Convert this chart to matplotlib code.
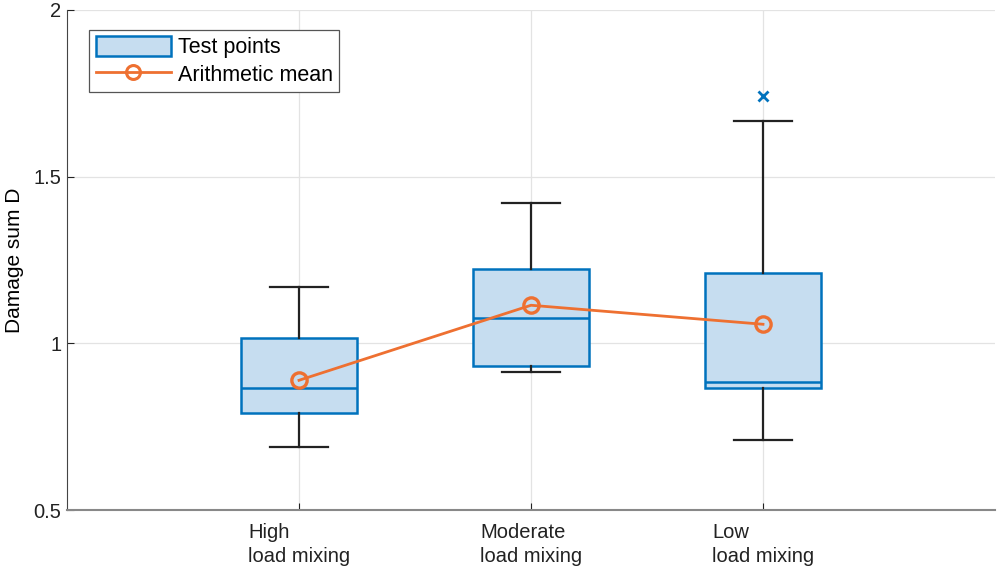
import matplotlib.pyplot as plt
from matplotlib.patches import Patch
from matplotlib.lines import Line2D

plt.rcParams['font.family'] = ['Liberation Sans', 'DejaVu Sans']

# data
labels = ['High\nload mixing', 'Moderate\nload mixing', 'Low\nload mixing']
q1 = [0.79, 0.931, 0.865]
med = [0.865, 1.075, 0.883]
q3 = [1.015, 1.222, 1.21]
wlo = [0.688, 0.913, 0.709]
whi = [1.168, 1.42, 1.667]
fliers = [[], [], [1.742]]
means = [0.889, 1.114, 1.057]

blue = '#0072BD'
fill = '#C6DDF0'
orange = '#EE7031'
fs = 14.5

stats = []
for i in range(3):
    stats.append(dict(q1=q1[i], med=med[i], q3=q3[i], whislo=wlo[i],
                      whishi=whi[i], fliers=fliers[i], label=labels[i]))

fig = plt.figure(figsize=(10, 5.75), dpi=100)
ax = fig.add_axes([0.067, 0.113, 0.928, 0.87])
pos = [1, 2, 3]
ax.bxp(stats, positions=pos, widths=0.5, patch_artist=True, showcaps=True,
       boxprops=dict(facecolor=fill, edgecolor=blue, linewidth=1.8),
       medianprops=dict(color=blue, linewidth=1.8),
       whiskerprops=dict(color='#222222', linewidth=1.6),
       capprops=dict(color='#222222', linewidth=1.6),
       capwidths=0.25,
       flierprops=dict(marker='x', markeredgecolor=blue, markersize=7, markeredgewidth=2))
ax.plot(pos, means, color=orange, linewidth=2, marker='o', markersize=11,
        markerfacecolor='none', markeredgewidth=2.4, zorder=5)

ax.set_xlim(0, 4)
ax.set_ylim(0.5, 2)
ax.set_yticks([0.5, 1, 1.5, 2])
ax.set_yticklabels(['0.5', '1', '1.5', '2'])
ax.set_xticks(pos)
ax.set_xticklabels(labels, ha='center', multialignment='left', linespacing=1.35)
ax.tick_params(direction='in', length=5, labelsize=fs, colors='#222222', width=0.8)
ax.tick_params(axis='x', pad=9)
ax.tick_params(axis='y', pad=4)
ax.grid(True, color='#e3e3e3', linewidth=0.9)
ax.set_axisbelow(True)
for s in ['top', 'right']:
    ax.spines[s].set_visible(False)
ax.spines['left'].set_color('#444444')
ax.spines['bottom'].set_color('#888888')
ax.spines['bottom'].set_linewidth(1.5)
ax.set_ylabel('Damage sum D', fontsize=15)
ax.yaxis.set_label_coords(-0.046, 0.5)

handles = [Patch(facecolor=fill, edgecolor=blue, linewidth=1.8),
           Line2D([], [], color=orange, linewidth=2, marker='o', markersize=10,
                  markerfacecolor='none', markeredgewidth=2.2)]
leg = ax.legend(handles, ['Test points', 'Arithmetic mean'], loc='upper left',
                bbox_to_anchor=(0.024, 0.96), fontsize=15.5, fancybox=False,
                edgecolor='#555555', handlelength=3.5, handleheight=1.0,
                borderpad=0.3, labelspacing=0.25, handletextpad=0.3,
                borderaxespad=0.0, framealpha=1)
leg.get_frame().set_linewidth(0.9)

fig.savefig('out.png')
